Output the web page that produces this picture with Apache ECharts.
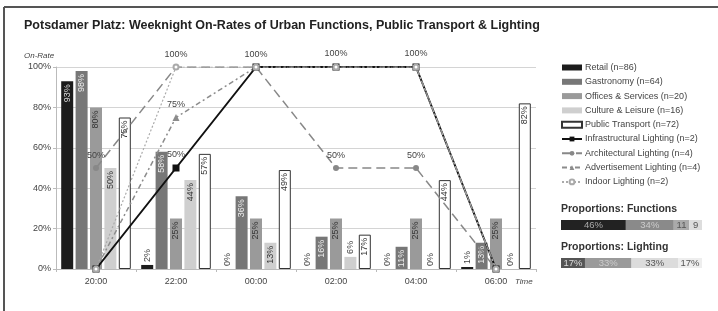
<!DOCTYPE html>
<html>
<head>
<meta charset="utf-8">
<script src="https://cdn.jsdelivr.net/npm/echarts@6/dist/echarts.min.js"></script>
<style>
  html, body { margin: 0; padding: 0; background: #fff; }
  #chart { width: 718px; height: 311px; }
</style>
</head>
<body>
<div id="chart"></div>
<script>
// time slots
var times = ['20:00', '22:00', '00:00', '02:00', '04:00', '06:00']
var yTicks = ['0%', '20%', '40%', '60%', '80%', '100%']

// urban functions (on-rate in %)
var retail = [93, 2, 0, 0, 0, 1]
var gastronomy = [98, 58, 36, 16, 11, 13]
var offices = [80, 25, 25, 25, 25, 25]
var culture = [50, 44, 13, 6, 0, 0]
var transport = [75, 57, 49, 17, 44, 82]

// lighting (on-rate in %)
var infraLight = [0, 50, 100, 100, 100, 0]
var archLight = [50, 100, 100, 50, 50, 0]
var advertLight = [0, 75, 100, 100, 100, 0]
var indoorLight = [0, 100, 100, 100, 100, 0]

// proportions
var propFunctions = [46, 34, 11, 9]
var propLighting = [17, 33, 33, 17]

var FONT = '"Liberation Sans", Arial, sans-serif'
var myChart = echarts.init(document.getElementById('chart'))

function barSeries (name, data, color, border, labelColor) {
  return {
    name: name,
    type: 'bar',
    xAxisIndex: 0,
    yAxisIndex: 0,
    barWidth: 12,
    barGap: '20%',
    itemStyle: { color: color, borderColor: border, borderWidth: border ? 1 : 0 },
    data: data.map(function (v) {
      var small = v < 10
      return {
        value: v,
        label: {
          show: true,
          position: small ? 'top' : 'insideTop',
          rotate: 90,
          align: small ? 'left' : 'right',
          verticalAlign: 'middle',
          distance: 3,
          fontSize: 9,
          fontFamily: FONT,
          color: small ? '#444' : labelColor,
          formatter: '{c}%'
        }
      }
    })
  }
}

function lineSeries (name, data, color, width, type, symbol, size, labelIdx) {
  return {
    name: name,
    type: 'line',
    xAxisIndex: 0,
    yAxisIndex: 0,
    z: 5,
    symbol: symbol,
    symbolSize: size,
    lineStyle: { color: color, width: width, type: type },
    itemStyle: { color: color },
    label: {
      show: true,
      position: 'top',
      distance: 5,
      fontSize: 9,
      fontFamily: FONT,
      color: '#444',
      formatter: function (p) {
        return labelIdx.indexOf(p.dataIndex) >= 0 ? p.value + '%' : ''
      }
    },
    data: data
  }
}

function propSeries (gridIdx, vals, colors, labelColors, pctLimit) {
  return vals.map(function (v, i) {
    return {
      type: 'bar',
      xAxisIndex: gridIdx,
      yAxisIndex: gridIdx,
      stack: 'p' + gridIdx,
      barWidth: 10,
      silent: true,
      itemStyle: { color: colors[i] },
      label: {
        show: true,
        position: 'inside',
        fontSize: 9.5,
        fontFamily: FONT,
        color: labelColors[i],
        formatter: v >= pctLimit ? '{c}%' : '{c}'
      },
      data: [v]
    }
  })
}

var series = [
  barSeries('Retail (n=86)', retail, '#1c1c1c', null, '#ddd'),
  barSeries('Gastronomy (n=64)', gastronomy, '#777777', null, '#eee'),
  barSeries('Offices & Services (n=20)', offices, '#9a9a9a', null, '#333'),
  barSeries('Culture & Leisure (n=16)', culture, '#cfcfcf', null, '#333'),
  barSeries('Public Transport (n=72)', transport, '#ffffff', '#333', '#333'),
  lineSeries('Infrastructural Lighting (n=2)', infraLight, '#111', 2, 'solid', 'rect', 7, [1, 3, 4]),
  lineSeries('Architectural Lighting (n=4)', archLight, '#888', 1.5, [9, 5], 'circle', 6, [0, 1, 2, 3, 4]),
  lineSeries('Advertisement Lighting (n=4)', advertLight, '#8c8c8c', 1.5, [5, 3, 2, 3], 'triangle', 7, [1]),
  lineSeries('Indoor Lighting (n=2)', indoorLight, '#aaa', 1.2, [2, 2], 'emptyCircle', 5, [])
]
series = series
  .concat(propSeries(1, propFunctions, ['#222', '#8a8a8a', '#aaaaaa', '#dddddd'], ['#aaa', '#ccc', '#555', '#555'], 15))
  .concat(propSeries(2, propLighting, ['#555', '#9a9a9a', '#dcdcdc', '#eeeeee'], ['#ddd', '#ccc', '#555', '#555'], 0))

var option = {
  animation: false,
  textStyle: { fontFamily: FONT },
  title: [
    {
      text: 'Potsdamer Platz: Weeknight On-Rates of Urban Functions, Public Transport & Lighting',
      left: 24, top: 19, padding: 0,
      textStyle: { fontSize: 12.5, fontWeight: 'bold', color: '#222', fontFamily: FONT }
    },
    { text: 'On-Rate', left: 24, top: 52, padding: 0, textStyle: { fontSize: 8, fontStyle: 'italic', fontWeight: 'normal', color: '#444', fontFamily: FONT } },
    { text: 'Time', left: 515, top: 278, padding: 0, textStyle: { fontSize: 8, fontStyle: 'italic', fontWeight: 'normal', color: '#444', fontFamily: FONT } },
    { text: 'Proportions: Functions', left: 561, top: 204, padding: 0, textStyle: { fontSize: 10.5, fontWeight: 'bold', color: '#333', fontFamily: FONT } },
    { text: 'Proportions: Lighting', left: 561, top: 242, padding: 0, textStyle: { fontSize: 10.5, fontWeight: 'bold', color: '#333', fontFamily: FONT } }
  ],
  legend: {
    orient: 'vertical',
    left: 561,
    top: 63,
    padding: 0,
    itemWidth: 20,
    itemHeight: 6,
    itemGap: 5.3,
    textStyle: { fontSize: 9, color: '#444', fontFamily: FONT, padding: [0, 0, 0, -2] },
    data: series.slice(0, 9).map(function (s, i) {
      return i < 5 ? { name: s.name, icon: 'rect' } : { name: s.name }
    })
  },
  grid: [
    { left: 56, right: 182, top: 67, bottom: 42 },
    { left: 561, width: 141, top: 220, height: 10 },
    { left: 561, width: 141, top: 258, height: 10 }
  ],
  xAxis: [
    {
      type: 'category',
      gridIndex: 0,
      data: times,
      axisLine: { lineStyle: { color: '#bbb' } },
      axisTick: { show: true, length: 3, lineStyle: { color: '#bbb' } },
      axisLabel: { fontSize: 9, color: '#444', margin: 8 }
    },
    { type: 'value', gridIndex: 1, min: 0, max: 100, show: false },
    { type: 'value', gridIndex: 2, min: 0, max: 100, show: false }
  ],
  yAxis: [
    {
      type: 'value',
      gridIndex: 0,
      min: 0,
      max: 100,
      interval: 20,
      axisLine: { show: true, lineStyle: { color: '#bbb' } },
      axisTick: { show: true, length: 3, lineStyle: { color: '#bbb' } },
      splitLine: { lineStyle: { color: '#d4d4d4' } },
      axisLabel: {
        fontSize: 9,
        color: '#444',
        margin: 5,
        formatter: function (v) { return yTicks[v / 20] }
      }
    },
    { type: 'category', gridIndex: 1, data: ['f'], show: false },
    { type: 'category', gridIndex: 2, data: ['l'], show: false }
  ],
  graphic: [
    { type: 'line', shape: { x1: 4, y1: 7, x2: 4, y2: 311 }, style: { stroke: '#555', lineWidth: 2 } },
    { type: 'line', shape: { x1: 4, y1: 7, x2: 718, y2: 7 }, style: { stroke: '#555', lineWidth: 2 } }
  ],
  series: series
}

myChart.setOption(option)
</script>
</body>
</html>
